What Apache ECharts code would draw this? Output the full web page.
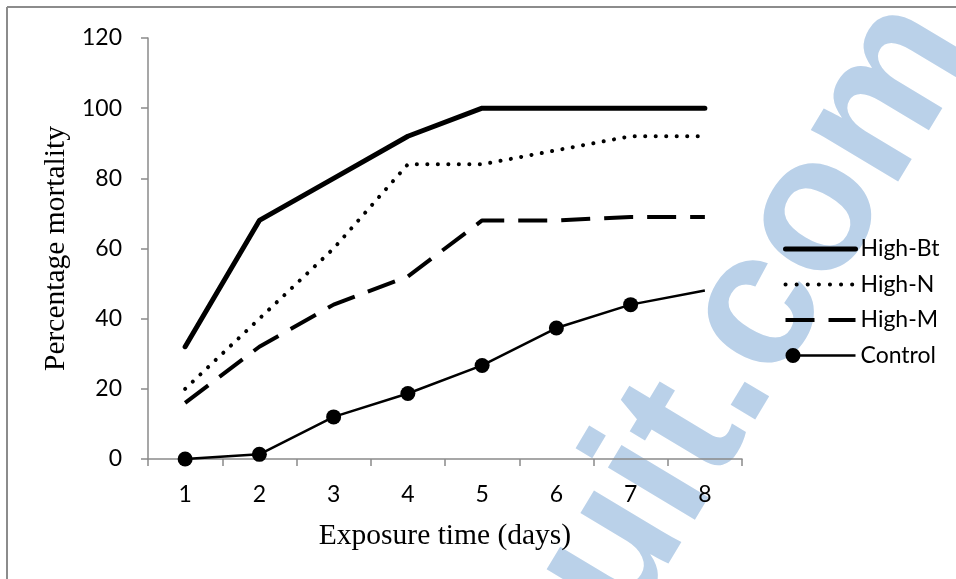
<!DOCTYPE html>
<html>
<head>
<meta charset="utf-8">
<script src="https://cdn.jsdelivr.net/npm/echarts@6/dist/echarts.min.js"></script>
<style>
  html, body { margin: 0; padding: 0; background: #fff; }
  #chart { width: 956px; height: 579px; }
</style>
</head>
<body>
<div id="chart"></div>
<script>
// Exposure days on the x axis
const days = ['1', '2', '3', '4', '5', '6', '7', '8'];

// Percentage mortality per treatment
const highBt  = [32, 68, 80, 92, 100, 100, 100, 100];
const highN   = [20, 40, 60, 84, 84, 88, 92, 92];
const highM   = [16, 32, 44, 52, 68, 68, 69, 69];
const control = [0, 1.33, 12, 18.67, 26.67, 37.33, 44, 48];

// Y axis range
const yMin = 0, yMax = 120, yStep = 20;

const axisGray = '#8a8a8a';
const tickFont = 'Lato';
const titleFont = '"Liberation Serif", "Times New Roman", serif';

const dotted = [0.1, 10.4];
const dashed = [29, 14];

// The last control reading is drawn without a marker
const controlData = control.map((v, i) =>
  i === control.length - 1 ? { value: v, symbol: 'none' } : v);

const chart = echarts.init(document.getElementById('chart'), null, { renderer: 'canvas' });

// Legend rows: line only, no centre symbol
const hideSymbol = { opacity: 0 };

chart.setOption({
  animation: false,
  backgroundColor: '#ffffff',
  grid: { left: 148, top: 38, width: 594, height: 421, containLabel: false },
  xAxis: {
    type: 'category',
    data: days,
    boundaryGap: true,
    z: 3,
    name: 'Exposure time (days)',
    nameLocation: 'middle',
    nameGap: 62,
    nameTextStyle: { fontFamily: titleFont, fontSize: 29.5, color: '#000' },
    axisLine: { lineStyle: { color: axisGray, width: 1.5 } },
    axisTick: { show: true, alignWithLabel: false, length: 7, lineStyle: { color: axisGray, width: 1.5 } },
    axisLabel: { fontFamily: tickFont, fontSize: 23, color: '#000', margin: 24 },
    splitLine: { show: false }
  },
  yAxis: {
    type: 'value',
    min: yMin, max: yMax, interval: yStep,
    z: 3,
    name: 'Percentage mortality',
    nameLocation: 'middle',
    nameGap: 67,
    nameTextStyle: { fontFamily: titleFont, fontSize: 29.5, color: '#000' },
    axisLine: { show: true, lineStyle: { color: axisGray, width: 1.5 } },
    axisTick: { show: true, length: 7, lineStyle: { color: axisGray, width: 1.5 } },
    axisLabel: { fontFamily: tickFont, fontSize: 23, color: '#000', margin: 26 },
    splitLine: { show: false }
  },
  legend: {
    orient: 'vertical',
    left: 783,
    top: 237,
    padding: 0,
    z: 5,
    itemWidth: 70,
    itemHeight: 15,
    itemGap: 11.5,
    textStyle: { fontFamily: tickFont, fontSize: 23, color: '#000', lineHeight: 24 },
    data: [
      { name: 'High-Bt', itemStyle: hideSymbol, lineStyle: { width: 5, type: 'solid' } },
      { name: 'High-N', itemStyle: hideSymbol, lineStyle: { width: 4, type: [0.1, 11], cap: 'round' } },
      { name: 'High-M', itemStyle: hideSymbol, lineStyle: { width: 4, type: dashed } },
      {
        name: 'Control',
        icon: 'path://M0,7.5 A7.5,7.5 0 1,1 15,7.5 A7.5,7.5 0 1,1 0,7.5 Z M7,6.2 L70,6.2 L70,8.8 L7,8.8 Z'
      }
    ]
  },
  series: [
    {
      name: 'High-Bt', type: 'line', data: highBt,
      symbol: 'none', color: '#000',
      lineStyle: { color: '#000', width: 5, cap: 'round', join: 'round' }
    },
    {
      name: 'High-N', type: 'line', data: highN,
      symbol: 'none', color: '#000',
      lineStyle: { color: '#000', width: 4, type: dotted, cap: 'round', join: 'round' }
    },
    {
      name: 'High-M', type: 'line', data: highM,
      symbol: 'none', color: '#000',
      lineStyle: { color: '#000', width: 4, type: dashed, cap: 'butt', join: 'round' }
    },
    {
      name: 'Control', type: 'line', data: controlData,
      symbol: 'circle', symbolSize: 15, showSymbol: true, color: '#000',
      itemStyle: { color: '#000' },
      lineStyle: { color: '#000', width: 2.5 }
    }
  ],
  graphic: [
    // frame edges
    { type: 'line', z: 1, shape: { x1: 7, y1: 7, x2: 956, y2: 7 }, style: { stroke: '#8c8c8c', lineWidth: 2 } },
    { type: 'line', z: 1, shape: { x1: 7, y1: 7, x2: 7, y2: 579 }, style: { stroke: '#8c8c8c', lineWidth: 2 } },
    // site mark behind the plot
    {
      type: 'text', z: 1, silent: true,
      x: 758, y: 312, rotation: 59 * Math.PI / 180,
      style: {
        text: 'uit.com',
        fontFamily: '"Liberation Sans", Arial, sans-serif',
        fontWeight: 'bold', fontSize: 192,
        fill: '#bad1e9',
        align: 'center', verticalAlign: 'middle'
      }
    }
  ]
});
</script>
</body>
</html>
